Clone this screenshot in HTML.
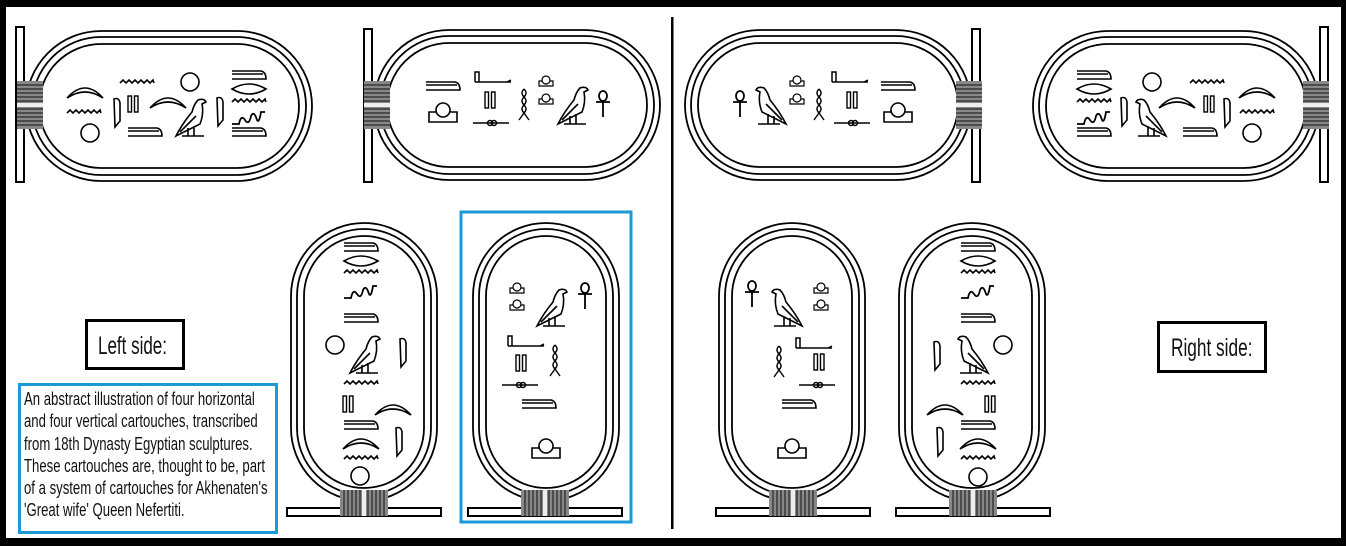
<!DOCTYPE html>
<html><head><meta charset="utf-8"><style>
html,body{margin:0;padding:0;background:#000;}
#w{position:relative;width:1346px;height:546px;background:#000;overflow:hidden;}
svg{position:absolute;left:0;top:0;}
.lbl{position:absolute;font-family:"Liberation Sans",sans-serif;color:#111;white-space:nowrap;transform-origin:0 0;}
</style></head><body><div id="w">
<svg width="1346" height="546" viewBox="0 0 1346 546">
<defs>
<g id="water" fill="none" stroke="#000" stroke-width="1.6"><polyline points="-17,0 -14,-3 -11,0 -8,-3 -5,0 -2,-3 1,0 4,-3 7,0 10,-3 13,0 16,-3 17,0"/></g>
<g id="arc" fill="none" stroke="#000" stroke-width="1.6"><path d="M-18,6 Q0,-14 18,6 Q0,-6 -18,6 Z"/></g>
<g id="bar" fill="none" stroke="#000" stroke-width="1.6"><path d="M-17,-4 L12,-4 Q17,-3 17,4 L-17,4 M-17,-1 L14,-1"/></g>
<g id="eye" fill="none" stroke="#000" stroke-width="1.6"><path d="M-17,0 Q0,-10 17,0 Q0,10 -17,0 Z"/></g>
<g id="snake" fill="none" stroke="#000" stroke-width="1.8"><path d="M-17,8 L-10,8 Q-8,-2 -4,4 Q0,10 2,0 Q5,-6 8,4 Q10,8 12,-4 L16,-4"/></g>
<g id="reed" fill="none" stroke="#000" stroke-width="1.6"><path d="M-3,-14 Q2,-16 3,-10 L3,8 L-2,14 L-3,-14 Z"/></g>
<g id="two" fill="#fff" stroke="#000" stroke-width="1.4"><rect x="-5" y="-8" width="3.5" height="16"/><rect x="1.5" y="-8" width="3.5" height="16"/></g>
<g id="sun" fill="#fff" stroke="#000" stroke-width="1.6"><circle r="9"/></g>
<g id="bird" fill="none" stroke="#000" stroke-width="1.6"><path d="M8,-18 Q14,-20 16,-16 L12,-14 Q14,-4 10,6 L-14,18 Q-8,6 2,-6 Q4,-14 8,-18 Z M-2,10 L-2,18 M4,8 L4,18 M-8,18 L14,18 M-10,14 L6,-2"/></g>
<g id="ankh" fill="none" stroke="#000" stroke-width="1.8"><ellipse cx="0" cy="-9" rx="4" ry="5"/><path d="M-7,-3 L7,-3 M0,-4 L0,12"/></g>
<g id="hill" fill="#fff" stroke="#000" stroke-width="1.6"><path d="M-14,8 L-14,-2 L14,-2 L14,8 Z"/><circle cx="0" cy="-4" r="7"/></g>
<g id="shill" fill="#fff" stroke="#000" stroke-width="1.2"><path d="M-7,4 L-7,-1 L7,-1 L7,4 Z"/><circle cx="0" cy="-2" r="4"/></g>
<g id="rope" fill="none" stroke="#000" stroke-width="1.4"><path d="M0,-15 Q4,-11 0,-7 Q-4,-3 0,1 Q4,5 0,9 M0,-15 Q-4,-11 0,-7 Q4,-3 0,1 Q-4,5 0,9 L-5,16 M0,9 L5,16"/></g>
<g id="loop" fill="none" stroke="#000" stroke-width="1.5"><path d="M-18,0 L18,0"/><circle cx="-1" r="2.5"/><circle cx="3" r="2.5"/></g>
<g id="stick" fill="none" stroke="#000" stroke-width="1.5"><path d="M-18,4 L18,4 M-18,4 L-18,-6 L-14,-6 L-14,4 M14,4 L18,2"/></g>
<g id="tieh"><rect x="0" y="0" width="26" height="48" fill="#888"/><g stroke="#111" stroke-width="1"><line x1="0" y1="4" x2="26" y2="4"/><line x1="0" y1="8" x2="26" y2="8"/><line x1="0" y1="12" x2="26" y2="12"/><line x1="0" y1="16" x2="26" y2="16"/><line x1="0" y1="20" x2="26" y2="20"/><line x1="0" y1="28" x2="26" y2="28"/><line x1="0" y1="32" x2="26" y2="32"/><line x1="0" y1="36" x2="26" y2="36"/><line x1="0" y1="40" x2="26" y2="40"/><line x1="0" y1="44" x2="26" y2="44"/></g><rect x="0" y="22" width="26" height="4" fill="#eee"/></g>
<g id="tiev"><rect x="0" y="0" width="48" height="26" fill="#888"/><g stroke="#111" stroke-width="1"><line x1="4" y1="0" x2="4" y2="26"/><line x1="8" y1="0" x2="8" y2="26"/><line x1="12" y1="0" x2="12" y2="26"/><line x1="16" y1="0" x2="16" y2="26"/><line x1="20" y1="0" x2="20" y2="26"/><line x1="28" y1="0" x2="28" y2="26"/><line x1="32" y1="0" x2="32" y2="26"/><line x1="36" y1="0" x2="36" y2="26"/><line x1="40" y1="0" x2="40" y2="26"/><line x1="44" y1="0" x2="44" y2="26"/></g><rect x="22" y="0" width="4" height="26" fill="#eee"/></g>
<g id="hcart" fill="none" stroke="#000" stroke-width="1.8"><rect x="0" y="0" width="286" height="150" rx="75" fill="#fff"/><rect x="6" y="6" width="274" height="138" rx="69"/><rect x="13" y="13" width="260" height="124" rx="62"/></g>
<g id="vcart" fill="none" stroke="#000" stroke-width="1.8"><rect x="0" y="0" width="146" height="278" rx="73" fill="#fff"/><rect x="6" y="6" width="134" height="266" rx="67"/><rect x="13" y="13" width="120" height="252" rx="60"/></g>
</defs>
<rect x="6" y="7" width="1335" height="531" fill="#fff"/>
<rect x="671" y="17" width="2.5" height="512" fill="#000"/>

<!-- H1 -->
<rect x="16" y="27" width="8" height="155" fill="#fff" stroke="#000" stroke-width="2"/>
<use href="#hcart" x="26" y="31"/>
<use href="#tieh" x="17" y="81"/>
<use href="#arc" x="85" y="92"/><use href="#water" x="84" y="113"/><use href="#sun" x="90" y="133"/>
<use href="#reed" x="117" y="113"/><use href="#water" x="137" y="83"/><use href="#two" x="133" y="104"/>
<use href="#bar" x="145" y="132"/><use href="#arc" x="168" y="102"/><use href="#bird" x="190" y="118"/>
<use href="#sun" x="190" y="82"/><use href="#reed" x="220" y="112"/>
<use href="#bar" x="249" y="75"/><use href="#eye" x="249" y="89"/><use href="#water" x="249" y="102"/><use href="#snake" x="249" y="116"/><use href="#bar" x="249" y="132"/>

<!-- H2 -->
<rect x="364" y="29" width="8" height="153" fill="#fff" stroke="#000" stroke-width="2"/>
<use href="#hcart" x="374" y="30"/>
<use href="#tieh" x="364" y="81"/>
<use href="#bar" x="443" y="86"/><use href="#hill" x="443" y="114"/>
<use href="#stick" x="493" y="78"/><use href="#two" x="490" y="100"/><use href="#loop" x="491" y="123"/>
<use href="#rope" x="524" y="104"/><use href="#shill" x="546" y="82"/><use href="#shill" x="546" y="100"/>
<use href="#bird" x="572" y="106"/><use href="#ankh" x="603" y="105"/>

<!-- H3 -->
<use href="#hcart" x="685" y="30"/>
<rect x="972" y="29" width="8" height="153" fill="#fff" stroke="#000" stroke-width="2"/>
<use href="#tieh" x="956" y="81"/>
<use href="#ankh" x="740" y="105"/><use href="#bird" x="772" y="106" transform="translate(1544,0) scale(-1,1)"/>
<use href="#shill" x="797" y="82"/><use href="#shill" x="797" y="100"/><use href="#rope" x="819" y="104"/>
<use href="#stick" x="850" y="78"/><use href="#two" x="852" y="100"/><use href="#loop" x="852" y="123"/>
<use href="#bar" x="898" y="86"/><use href="#hill" x="898" y="114"/>

<!-- H4 -->
<use href="#hcart" x="1033" y="31"/>
<rect x="1320" y="27" width="8" height="155" fill="#fff" stroke="#000" stroke-width="2"/>
<use href="#tieh" x="1303" y="81"/>
<use href="#bar" x="1094" y="75"/><use href="#eye" x="1094" y="89"/><use href="#water" x="1094" y="102"/><use href="#snake" x="1094" y="116"/><use href="#bar" x="1094" y="132"/>
<use href="#reed" x="1124" y="112"/><use href="#sun" x="1152" y="82"/>
<use href="#bird" x="1152" y="118" transform="translate(2304,0) scale(-1,1)"/>
<use href="#arc" x="1177" y="102"/><use href="#water" x="1207" y="83"/><use href="#two" x="1209" y="104"/><use href="#bar" x="1200" y="132"/>
<use href="#reed" x="1227" y="113"/><use href="#arc" x="1257" y="92"/><use href="#water" x="1257" y="113"/><use href="#sun" x="1252" y="133"/>

<!-- V1 -->
<rect x="287" y="508" width="154" height="8" fill="#fff" stroke="#000" stroke-width="2"/>
<use href="#vcart" x="291" y="223"/>
<use href="#tiev" x="340" y="490"/>
<use href="#bar" x="361" y="247"/><use href="#eye" x="361" y="261"/><use href="#water" x="361" y="273"/><use href="#snake" x="361" y="290"/><use href="#bar" x="361" y="318"/>
<use href="#sun" x="335" y="345"/><use href="#bird" x="364" y="355"/><use href="#reed" x="403" y="353"/>
<use href="#water" x="361" y="384"/><use href="#two" x="348" y="404"/><use href="#arc" x="393" y="409"/>
<use href="#bar" x="361" y="425"/><use href="#arc" x="361" y="443"/><use href="#reed" x="399" y="442"/>
<use href="#water" x="361" y="459"/><use href="#sun" x="360" y="476"/>

<!-- V2 -->
<rect x="461" y="212" width="170" height="310" fill="none" stroke="#1a9bd7" stroke-width="3"/>
<rect x="468" y="508" width="154" height="8" fill="#fff" stroke="#000" stroke-width="2"/>
<use href="#vcart" x="473" y="223"/>
<use href="#tiev" x="521" y="490"/>
<use href="#shill" x="517" y="289"/><use href="#shill" x="517" y="306"/><use href="#bird" x="551" y="308"/><use href="#ankh" x="585" y="297"/>
<use href="#stick" x="526" y="342"/><use href="#two" x="521" y="363"/><use href="#rope" x="555" y="360"/><use href="#loop" x="520" y="385"/>
<use href="#bar" x="539" y="404"/><use href="#hill" x="546" y="450"/>

<!-- V3 -->
<rect x="716" y="508" width="154" height="8" fill="#fff" stroke="#000" stroke-width="2"/>
<use href="#vcart" x="719" y="223"/>
<use href="#tiev" x="769" y="490"/>
<use href="#ankh" x="752" y="295"/><use href="#bird" x="788" y="308" transform="translate(1576,0) scale(-1,1)"/>
<use href="#shill" x="821" y="289"/><use href="#shill" x="821" y="306"/>
<use href="#stick" x="814" y="344"/><use href="#rope" x="779" y="361"/><use href="#two" x="819" y="362"/><use href="#loop" x="817" y="385"/>
<use href="#bar" x="799" y="404"/><use href="#hill" x="792" y="450"/>

<!-- V4 -->
<rect x="896" y="508" width="154" height="8" fill="#fff" stroke="#000" stroke-width="2"/>
<use href="#vcart" x="899" y="223"/>
<use href="#tiev" x="949" y="490"/>
<use href="#bar" x="978" y="247"/><use href="#eye" x="978" y="261"/><use href="#water" x="978" y="273"/><use href="#snake" x="978" y="290"/><use href="#bar" x="978" y="318"/>
<use href="#reed" x="937" y="356"/><use href="#bird" x="974" y="355" transform="translate(1948,0) scale(-1,1)"/><use href="#sun" x="1003" y="345"/>
<use href="#water" x="978" y="384"/><use href="#two" x="990" y="404"/><use href="#arc" x="945" y="409"/>
<use href="#bar" x="978" y="425"/><use href="#reed" x="940" y="442"/><use href="#arc" x="978" y="443"/>
<use href="#water" x="978" y="459"/><use href="#sun" x="978" y="477"/>

<!-- label boxes -->
<rect x="86.5" y="320.5" width="97" height="48" fill="#fff" stroke="#000" stroke-width="3"/>
<rect x="1158.5" y="322.5" width="107" height="49" fill="#fff" stroke="#000" stroke-width="3"/>
<rect x="19.5" y="384.5" width="257" height="148" fill="#fff" stroke="#1a9bd7" stroke-width="3"/>
</svg>
<div class="lbl" style="left:98px;top:332px;font-size:25px;transform:scaleX(0.68);">Left side:</div>
<div class="lbl" style="left:1171px;top:334px;font-size:25px;transform:scaleX(0.69);">Right side:</div>
<div class="lbl" style="left:24px;top:388px;font-size:18px;line-height:22.3px;transform:scaleX(0.73);">An abstract illustration of four horizontal<br>and four vertical cartouches, transcribed<br>from 18th Dynasty Egyptian sculptures.<br>These cartouches are, thought to be, part<br>of a system of cartouches for Akhenaten's<br>'Great wife' Queen Nefertiti.</div>
</div></body></html>
